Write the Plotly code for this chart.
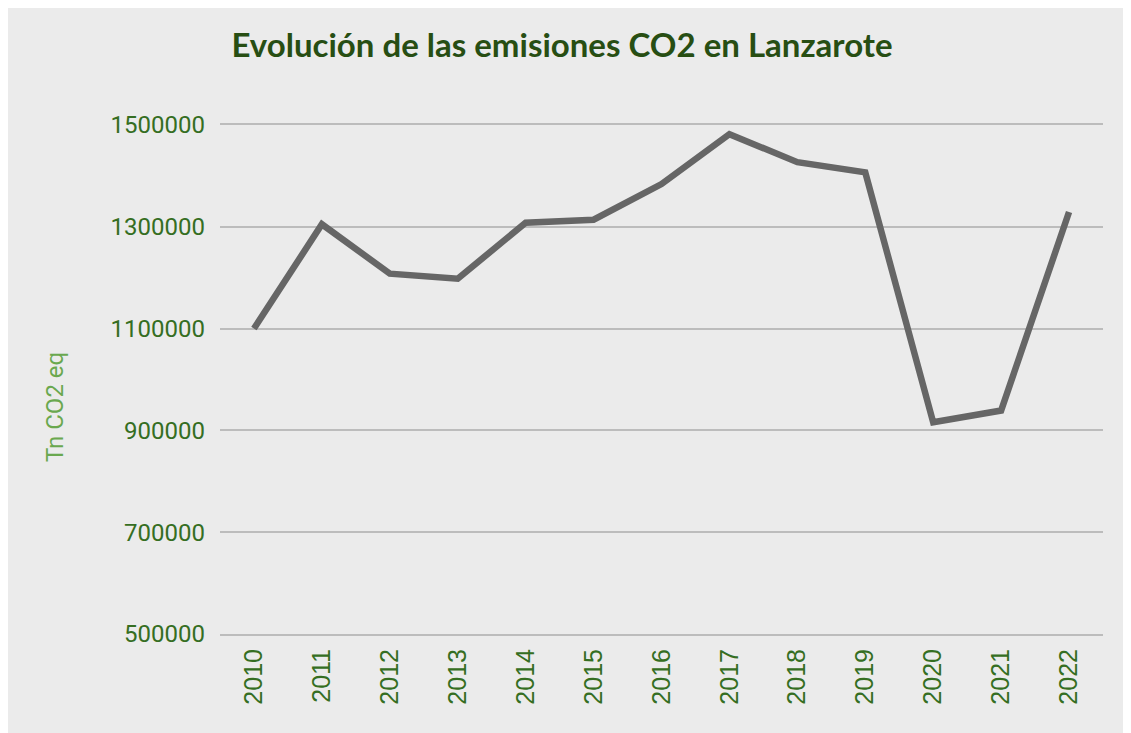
import plotly.graph_objects as go

years = ["2010", "2011", "2012", "2013", "2014", "2015", "2016",
         "2017", "2018", "2019", "2020", "2021", "2022"]
emisiones = [1100000, 1305000, 1208000, 1198000, 1308000, 1314000, 1384000,
             1482000, 1427000, 1407000, 916000, 939000, 1329000]
y_ticks = [500000, 700000, 900000, 1100000, 1300000, 1500000]
y_tick_labels = [str(v) for v in y_ticks]

title_text = "Evolución de las emisiones CO2 en Lanzarote"
y_title = "Tn CO2 eq"

# page is offset by the 8px body margin
OFF = 8
W, H = 1131, 733
L, T = 220 - OFF, 125 - OFF
pw, ph = 883, 509
R, B = W - L - pw, H - T - ph

def px_x(x):
    return (x - OFF - L) / pw

def px_y(y):
    return (T + ph - (y - OFF)) / ph

grid_col = "#bcbcbc"
fig = go.Figure()
fig.add_trace(go.Scatter(
    x=years, y=emisiones, mode="lines",
    line=dict(color="#666666", width=6.5),
    hoverinfo="x+y", showlegend=False,
))

fig.update_layout(
    width=W, height=H,
    margin=dict(l=L, r=R, t=T, b=B),
    paper_bgcolor="#ebebeb",
    plot_bgcolor="#ebebeb",
    title=dict(
        text="<b>" + title_text + "</b>",
        x=px_x(562), xref="paper", xanchor="center",
        y=1 - (45 - OFF) / H, yref="container", yanchor="middle",
        font=dict(family="Lato", size=33, color="#274e13"),
    ),
    xaxis=dict(
        type="category",
        range=[-0.5, len(years) - 0.5],
        showgrid=False, zeroline=False,
        showline=True, mirror=True, linecolor=grid_col, linewidth=2,
        tickangle=-90,
        tickfont=dict(family="Liberation Sans", size=25, color="#356e22"),
        ticks="", ticklabelstandoff=3,
    ),
    yaxis=dict(
        range=[500000, 1500000],
        tickvals=y_ticks, ticktext=y_tick_labels,
        showgrid=True, gridcolor=grid_col, gridwidth=2,
        zeroline=False, showline=False,
        tickfont=dict(family="Roboto", size=24, color="#356e22"),
        ticks="", ticklabelstandoff=14,
    ),
    annotations=[
        dict(text=y_title, textangle=-90, showarrow=False,
             xref="paper", yref="paper", x=px_x(55), y=px_y(407),
             xanchor="center", yanchor="middle",
             font=dict(family="Roboto", size=24, color="#6aa84f")),
    ],
)

fig.write_html("out.html")
